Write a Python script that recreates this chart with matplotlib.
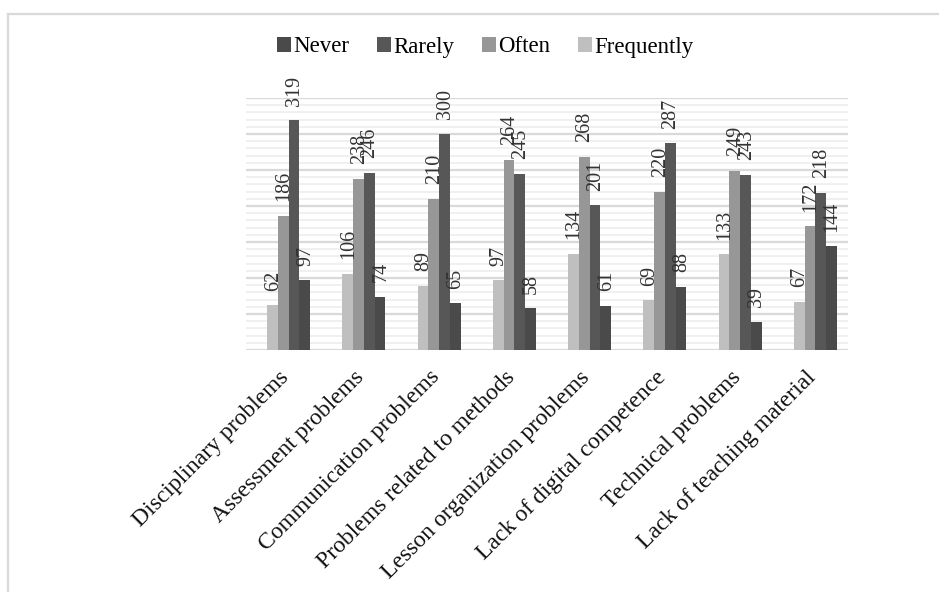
import matplotlib.pyplot as plt
import matplotlib.transforms as mtransforms
import numpy as np
from matplotlib.lines import Line2D

categories = ['Disciplinary problems', 'Assessment problems', 'Communication problems',
              'Problems related to methods', 'Lesson organization problems',
              'Lack of digital competence', 'Technical problems', 'Lack of teaching material']
frequently = [62, 106, 89, 97, 134, 69, 133, 67]
often = [186, 238, 210, 264, 268, 220, 249, 172]
rarely = [319, 246, 300, 245, 201, 287, 243, 218]
never = [97, 74, 65, 58, 61, 88, 39, 144]

# drawn left to right inside each group
series = [('Frequently', frequently, '#bfbfbf'),
          ('Often', often, '#979797'),
          ('Rarely', rarely, '#575757'),
          ('Never', never, '#4a4a4a')]

plt.rcParams['font.family'] = ['Liberation Serif', 'DejaVu Serif']

fig = plt.figure(figsize=(9.39, 5.92), dpi=100)
ax = fig.add_axes([246 / 939, 1 - 350 / 592, 602 / 939, 252 / 592])

x = np.arange(len(categories))
w = 0.143
bars = {}
for i, (name, vals, col) in enumerate(series):
    pos = x + (i - 1.5) * w
    bars[name] = ax.bar(pos, vals, w, color=col, zorder=3)
    for px, v in zip(pos, vals):
        ax.annotate(str(v), (px, v), xytext=(0.5, 10.5), textcoords='offset points',
                    rotation=90, ha='center', va='bottom', fontsize=14.5,
                    color='#333333', zorder=4)

ax.set_xlim(-0.5 - 0.066, 7.5 - 0.066)
ax.set_ylim(0, 350)

# minor lines every 10, major every 50
for yv in range(0, 351, 10):
    if yv % 50 == 0:
        ax.axhline(yv, color='#d9d9d9', lw=1.6, zorder=1)
    else:
        ax.axhline(yv, color='#f0f0f0', lw=1.4, zorder=1)

for s in ax.spines.values():
    s.set_visible(False)
ax.set_yticks([])
ax.set_xticks(x)
ax.set_xticklabels(categories, rotation=45, ha='right', va='top',
                   rotation_mode='anchor', fontsize=17, color='#111111')
ax.tick_params(axis='x', length=0, pad=12)
shift = mtransforms.ScaledTranslation(-10 / 100, 0, fig.dpi_scale_trans)
for lbl in ax.get_xticklabels():
    lbl.set_transform(lbl.get_transform() + shift)

handles = [bars['Never'], bars['Rarely'], bars['Often'], bars['Frequently']]
ax.legend(handles, ['Never', 'Rarely', 'Often', 'Frequently'], ncol=4,
          loc='center', bbox_to_anchor=(485 / 939, 1 - 47 / 592),
          bbox_transform=fig.transFigure, frameon=False, fontsize=16.5,
          handlelength=0.62, handleheight=0.62, handletextpad=0.1,
          columnspacing=1.2)

# outer chart frame
fig.add_artist(Line2D([8 / 939, 8 / 939], [0, 1 - 14 / 592], color='#d9d9d9', lw=1.6))
fig.add_artist(Line2D([8 / 939, 1], [1 - 14 / 592, 1 - 14 / 592], color='#d9d9d9', lw=1.6))

fig.savefig('out.png', dpi=100)
